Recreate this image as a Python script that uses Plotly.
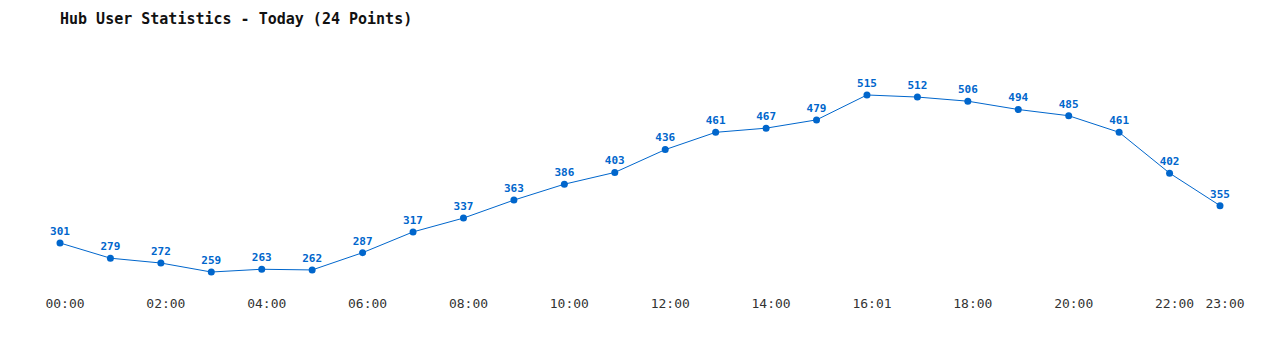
import plotly.graph_objects as go

times = ["00:00", "01:00", "02:00", "03:00", "04:00", "05:00", "06:00", "07:00",
         "08:00", "09:00", "10:00", "11:00", "12:00", "13:00", "14:00", "15:00",
         "16:01", "17:00", "18:00", "19:00", "20:00", "21:00", "22:00", "23:00"]
users = [301, 279, 272, 259, 263, 262, 287, 317, 337, 363, 386, 403, 436, 461,
         467, 479, 515, 512, 506, 494, 485, 461, 402, 355]
tick_idx = [0, 2, 4, 6, 8, 10, 12, 14, 16, 18, 20, 22, 23]

idx = list(range(len(times)))
FONT = "DejaVu Sans Mono"
BLUE = "#0066cc"

fig = go.Figure(go.Scatter(
    x=idx, y=users, mode="lines+markers+text",
    line=dict(color=BLUE, width=1),
    marker=dict(color=BLUE, size=7),
    text=[str(v) for v in users], textposition="top center",
    textfont=dict(family=FONT, size=11, color=BLUE, weight="bold"),
    hovertext=times, cliponaxis=False,
))

fig.update_layout(
    width=1280, height=350,
    margin=dict(l=60, r=60, t=40, b=60),
    paper_bgcolor="white", plot_bgcolor="white",
    showlegend=False,
    title=dict(text="Hub User Statistics - Today (24 Points)", x=60/1280, xanchor="left",
               y=1 - 18.5/350, yanchor="middle",
               font=dict(family=FONT, size=15, color="#111111", weight="bold")),
    xaxis=dict(range=[0, 23], tickmode="array", tickvals=tick_idx,
               ticktext=[times[i] for i in tick_idx], showgrid=False, zeroline=False,
               showline=False, ticks="", ticklabelstandoff=4, ticklabelshift=5,
               tickfont=dict(family=FONT, size=13, color="#333333")),
    yaxis=dict(range=[233, 594.5], visible=False, showgrid=False, zeroline=False),
)

fig.write_html("out.html")
